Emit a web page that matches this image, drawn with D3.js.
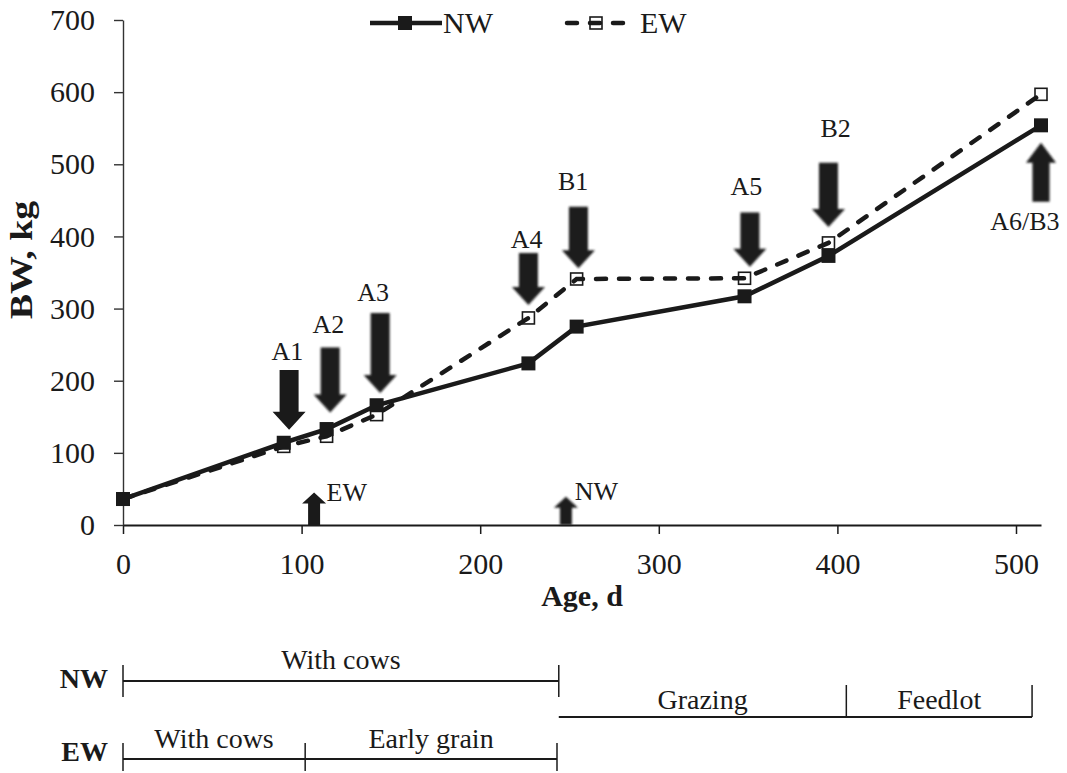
<!DOCTYPE html>
<html>
<head>
<meta charset="utf-8">
<script src="https://cdn.jsdelivr.net/npm/d3@7/dist/d3.min.js"></script>
<style>
  body { margin: 0; background: #fff; }
  svg { display: block; }
  text { font-family: "Liberation Serif", "Times New Roman", serif; fill: #1a1a1a; }
</style>
</head>
<body>
<svg id="canvas"></svg>
<script>
// body weight by age
const ages = [0, 90, 114, 142, 227, 254, 348, 395, 514];
const nwBW = [36, 114, 133, 166, 224, 275, 317, 373, 554];
const ewBW = [36, 109, 123, 153, 287, 341, 342, 391, 597];

const xTicks = [0, 100, 200, 300, 400, 500];
const yTicks = [0, 100, 200, 300, 400, 500, 600, 700];

// sampling arrows (pointing down): age, tail kg, tip kg
const downLabels = ["A1", "A2", "A3", "A4", "B1", "A5", "B2"];
const downAges = [93, 116, 144, 227, 255, 351, 395];
const downTail = [215, 246, 294, 377, 441, 433, 502];
const downTip = [132, 156, 183, 305, 356, 358, 413];
const downLabelAge = [92, 115, 140, 226, 252, 349, 399];
const downLabelKg = [229, 266, 310, 384, 464, 457, 538];

// arrows pointing up: age, tail kg, tip kg
const upLabels = ["A6/B3", "EW", "NW"];
const upAges = [514, 107, 248];
const upTail = [448, 0, 0];
const upTip = [530, 45, 39];
const upLabelAge = [505, 114, 253];
const upLabelKg = [409, 33, 35];

// management phases under the chart
const nwPhases = ["With cows"];
const nwPhaseStart = [0];
const nwPhaseEnd = [244];
const nwPhases2 = ["Grazing", "Feedlot"];
const nwPhase2Start = [244, 405];
const nwPhase2End = [405, 509];
const ewPhases = ["With cows", "Early grain"];
const ewPhaseStart = [0, 102];
const ewPhaseEnd = [102, 243];

const width = 1067;
const height = 773;
const margin = {top: 20, right: 26, bottom: 248, left: 123};
const innerWidth = width - margin.left - margin.right;
const innerHeight = height - margin.top - margin.bottom;
const ink = "#1a1a1a";

const svg = d3.select("#canvas").attr("width", width).attr("height", height);
svg.append("rect").attr("width", width).attr("height", height).attr("fill", "#fff");

const defs = svg.append("defs");
defs.append("filter").attr("id", "soft")
  .attr("x", "-30%").attr("y", "-30%").attr("width", "160%").attr("height", "160%")
  .append("feGaussianBlur").attr("stdDeviation", 0.9);

const xScale = d3.scaleLinear().domain([0, 514]).range([0, innerWidth]);
const yScale = d3.scaleLinear().domain([0, 700]).range([innerHeight, 0]);

const xGroup = svg.append("g").attr("transform", `translate(${margin.left}, ${margin.top + innerHeight})`);
const yGroup = svg.append("g").attr("transform", `translate(${margin.left}, ${margin.top})`);
const mainGroup = svg.append("g").attr("transform", `translate(${margin.left}, ${margin.top})`);

xGroup.call(d3.axisBottom(xScale).tickValues(xTicks).tickSize(9).tickPadding(19).tickSizeOuter(0))
  .call(g => {
    g.attr("font-size", 30);
    g.select(".domain").attr("stroke", ink).attr("stroke-width", 2);
    g.selectAll(".tick line").attr("stroke", ink).attr("stroke-width", 1.5);
  });

yGroup.call(d3.axisLeft(yScale).tickValues(yTicks).tickSize(9).tickPadding(19).tickSizeOuter(0))
  .call(g => {
    g.attr("font-size", 30);
    g.select(".domain").attr("stroke", "#333").attr("stroke-width", 1.4);
    g.selectAll(".tick line").attr("stroke", "#333").attr("stroke-width", 1.4);
  });

svg.append("text")
  .attr("x", margin.left + innerWidth / 2)
  .attr("y", 606)
  .attr("text-anchor", "middle")
  .attr("font-size", 30)
  .attr("font-weight", "bold")
  .text("Age, d");

svg.append("text")
  .attr("transform", "translate(32, 260) rotate(-90) scale(1.22, 1)")
  .attr("text-anchor", "middle")
  .attr("font-size", 31)
  .attr("font-weight", "bold")
  .text("BW, kg");

// series
const nwData = ages.map((a, i) => ({age: a, bw: nwBW[i]}));
const ewData = ages.map((a, i) => ({age: a, bw: ewBW[i]}));
const line = d3.line().x(d => xScale(d.age)).y(d => yScale(d.bw));

mainGroup.append("path")
  .datum(ewData)
  .attr("d", line)
  .attr("fill", "none")
  .attr("stroke", ink)
  .attr("stroke-width", 4.5)
  .attr("stroke-linecap", "round")
  .attr("stroke-dasharray", "10 13");

mainGroup.selectAll(".ewPt")
  .data(ewData)
  .join("rect")
  .attr("class", "ewPt")
  .attr("x", d => xScale(d.age) - 6)
  .attr("y", d => yScale(d.bw) - 6)
  .attr("width", 12)
  .attr("height", 12)
  .attr("fill", "none")
  .attr("stroke", ink)
  .attr("stroke-width", 1.6);

mainGroup.append("path")
  .datum(nwData)
  .attr("d", line)
  .attr("fill", "none")
  .attr("stroke", ink)
  .attr("stroke-width", 4.5);

mainGroup.selectAll(".nwPt")
  .data(nwData)
  .join("rect")
  .attr("class", "nwPt")
  .attr("x", d => xScale(d.age) - 7)
  .attr("y", d => yScale(d.bw) - 7)
  .attr("width", 14)
  .attr("height", 14)
  .attr("fill", ink);

// arrows
function arrowPath(cx, yTail, yTip, sw, hw, hl) {
  const dir = yTip > yTail ? 1 : -1;
  const yb = yTip - dir * hl;
  return `M${cx - sw},${yTail}L${cx + sw},${yTail}L${cx + sw},${yb}L${cx + hw},${yb}` +
    `L${cx},${yTip}L${cx - hw},${yb}L${cx - sw},${yb}Z`;
}
const crisp = new Set(["A1", "EW"]);

downLabels.forEach((lab, i) => {
  mainGroup.append("path")
    .attr("d", arrowPath(xScale(downAges[i]), yScale(downTail[i]), yScale(downTip[i]), 9.5, 16.5, 18))
    .attr("fill", ink)
    .attr("filter", crisp.has(lab) ? null : "url(#soft)");
  mainGroup.append("text")
    .attr("x", xScale(downLabelAge[i]))
    .attr("y", yScale(downLabelKg[i]))
    .attr("text-anchor", "middle")
    .attr("font-size", 26)
    .text(lab);
});

upLabels.forEach((lab, i) => {
  const small = lab !== "A6/B3";
  mainGroup.append("path")
    .attr("d", small
      ? arrowPath(xScale(upAges[i]), yScale(upTail[i]), yScale(upTip[i]), 6, 12, 11)
      : arrowPath(xScale(upAges[i]), yScale(upTail[i]), yScale(upTip[i]), 8.5, 15, 20))
    .attr("fill", ink)
    .attr("filter", crisp.has(lab) ? null : "url(#soft)");
  mainGroup.append("text")
    .attr("x", xScale(upLabelAge[i]))
    .attr("y", yScale(upLabelKg[i]))
    .attr("text-anchor", small ? "start" : "middle")
    .attr("font-size", 26)
    .text(lab);
});

// legend
const legend = svg.append("g");
legend.append("line").attr("x1", 370).attr("x2", 442).attr("y1", 23).attr("y2", 23)
  .attr("stroke", ink).attr("stroke-width", 4.5);
legend.append("rect").attr("x", 398).attr("y", 16).attr("width", 14).attr("height", 14).attr("fill", ink);
legend.append("text").attr("x", 443).attr("y", 33).attr("font-size", 30).text("NW");
legend.append("line").attr("x1", 567).attr("x2", 626).attr("y1", 23).attr("y2", 23)
  .attr("stroke", ink).attr("stroke-width", 4.5).attr("stroke-linecap", "round")
  .attr("stroke-dasharray", "10 13");
legend.append("rect").attr("x", 590).attr("y", 17).attr("width", 12).attr("height", 12)
  .attr("fill", "none").attr("stroke", ink).attr("stroke-width", 1.6);
legend.append("text").attr("x", 640).attr("y", 33).attr("font-size", 30).text("EW");

// phase bars
const timeline = svg.append("g").attr("transform", `translate(${margin.left}, 0)`);

function phaseRow(names, starts, ends, yLine, tickUp, tickDown, labelGap, tickAges) {
  timeline.append("line")
    .attr("x1", xScale(d3.min(starts))).attr("x2", xScale(d3.max(ends)))
    .attr("y1", yLine).attr("y2", yLine)
    .attr("stroke", ink).attr("stroke-width", 1.8);
  tickAges.forEach(a => {
    timeline.append("line")
      .attr("x1", xScale(a)).attr("x2", xScale(a))
      .attr("y1", yLine - tickUp).attr("y2", yLine + tickDown)
      .attr("stroke", ink).attr("stroke-width", 1.5);
  });
  names.forEach((n, i) => {
    timeline.append("text")
      .attr("x", xScale((starts[i] + ends[i]) / 2))
      .attr("y", yLine - labelGap)
      .attr("text-anchor", "middle")
      .attr("font-size", 28)
      .text(n);
  });
}

phaseRow(nwPhases, nwPhaseStart, nwPhaseEnd, 681, 16, 16, 12, [0, 244]);
phaseRow(nwPhases2, nwPhase2Start, nwPhase2End, 717, 32, 0, 8, [405, 509]);
phaseRow(ewPhases, ewPhaseStart, ewPhaseEnd, 759, 16, 12, 11, [0, 102, 243]);

svg.append("text")
  .attr("x", 108).attr("y", 688)
  .attr("text-anchor", "end").attr("font-size", 28).attr("font-weight", "bold").text("NW");
svg.append("text")
  .attr("x", 108).attr("y", 761)
  .attr("text-anchor", "end").attr("font-size", 28).attr("font-weight", "bold").text("EW");
</script>
</body>
</html>
